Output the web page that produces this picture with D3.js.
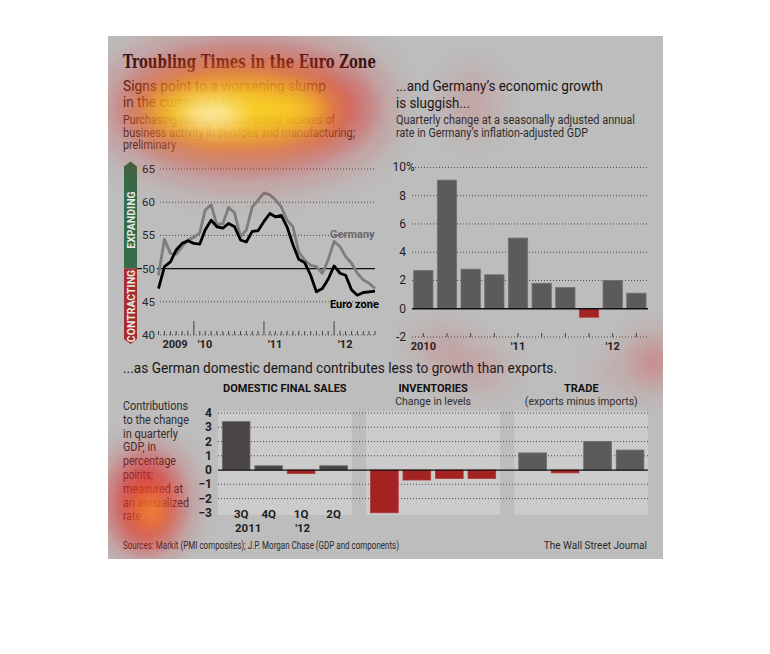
<!DOCTYPE html>
<html><head><meta charset="utf-8">
<script src="https://cdn.jsdelivr.net/npm/d3@7"></script>
<style>
body{margin:0;background:#fff}
svg{display:block}
text{font-family:Roboto,"Noto Sans","DejaVu Sans",sans-serif}
</style>
</head><body>
<svg id="c" width="770" height="654"></svg>
<script>
// ---------- DATA ----------
const pmiStart = "2009-07-01";
const germanyPMI = [49.0,54.4,52.3,52.2,53.3,54.3,54.7,55.4,58.8,59.6,56.6,56.8,59.2,58.4,54.8,55.8,59.3,60.3,61.4,61.1,60.4,59.3,57.3,56.3,52.5,51.3,50.5,50.3,49.3,51.3,54.1,53.3,51.8,50.8,49.3,48.3,47.8,47.0];
const euroPMI    = [47.0,50.3,51.0,52.8,53.8,54.2,53.8,53.7,55.8,57.3,56.3,56.1,56.8,56.3,54.3,54.0,55.6,55.7,57.1,58.3,57.8,58.0,56.3,53.6,51.4,50.9,49.0,46.5,47.0,48.4,50.4,49.3,49.0,46.8,46.0,46.4,46.5,46.6];
const pmiTicks = [40,45,50,55,60,65];
const pmiYearLabels = [{date:"2010-01-01",label:"'10"},{date:"2011-01-01",label:"'11"},{date:"2012-01-01",label:"'12"}];

const gdpQuarters = ["2010Q1","2010Q2","2010Q3","2010Q4","2011Q1","2011Q2","2011Q3","2011Q4","2012Q1","2012Q2"];
const gdpValues   = [2.7,9.1,2.8,2.4,5.0,1.8,1.5,-0.6,2.0,1.1];
const gdpTicks = [-2,0,2,4,6,8,10];
const gdpYearLabels = [{q:"2010Q1",label:"2010"},{q:"2011Q1",label:"'11"},{q:"2012Q1",label:"'12"}];

const compGroups = ["DOMESTIC FINAL SALES","INVENTORIES","TRADE"];
const compSubtitles = ["","Change in levels","(exports minus imports)"];
const compQuarters = ["3Q","4Q","1Q","2Q"];
const compYears = ["2011","","'12",""];
const domesticValues  = [3.4,0.3,-0.25,0.3];
const inventoryValues = [-3.0,-0.7,-0.6,-0.6];
const tradeValues     = [1.2,-0.2,2.0,1.4];
const compTicks = [-3,-2,-1,0,1,2,3,4];
const leftNote = ["Contributions","to the change","in quarterly","GDP, in","percentage","points;","measured at","an annualized","rate"];

// ---------- STYLE ----------
const BG = "#bdbdbd", DARK = "#5b5b5b", RED = "#a32222", INK = "#161616", SUB = "#2e2e2e";
const svg = d3.select("#c");

function txt(x, y, s, o = {}) {
  const t = svg.append("text").attr("x", x).attr("y", y).text(s)
    .attr("font-size", o.size || 12).attr("fill", o.fill || INK)
    .attr("font-weight", o.weight || "normal")
    .attr("text-anchor", o.anchor || "start");
  if (o.family) t.style("font-family", o.family);
  if (o.len) t.attr("textLength", o.len).attr("lengthAdjust", "spacingAndGlyphs");
  return t;
}

svg.append("rect").attr("x", 108).attr("y", 36).attr("width", 555).attr("height", 523).attr("fill", BG);

// ---------- TITLES ----------
txt(123, 68, "Troubling Times in the Euro Zone", {size: 18, weight: "bold", family: "'DejaVu Serif',serif", len: 253, fill: "#1e1212"});
txt(123, 91, "Signs point to a worsening slump", {size: 14, len: 203});
txt(123, 107, "in the currency bloc...", {size: 14, len: 127});
txt(123, 124, "Purchasing managers\u2019 composite indexes of", {size: 12, fill: SUB, len: 212});
txt(123, 136.5, "business activity in services and manufacturing;", {size: 12, fill: SUB, len: 232});
txt(123, 149, "preliminary", {size: 12, fill: SUB, len: 53});

txt(396, 91, "...and Germany\u2019s economic growth", {size: 14, len: 207});
txt(396, 108, "is sluggish...", {size: 14, len: 74});
txt(396, 124, "Quarterly change at a seasonally adjusted annual", {size: 12, fill: SUB, len: 239});
txt(396, 136.5, "rate in Germany\u2019s inflation-adjusted GDP", {size: 12, fill: SUB, len: 192});

txt(123, 373, "...as German domestic demand contributes less to growth than exports.", {size: 15, len: 434});

// ---------- PMI LINE CHART ----------
const px = d3.scaleTime().domain([new Date(pmiStart), d3.timeMonth.offset(new Date(pmiStart), germanyPMI.length - 1)]).range([158.5, 375]);
const py = d3.scaleLinear().domain([40, 65]).range([335, 169]);
const monthAt = i => d3.timeMonth.offset(new Date(pmiStart), i);

pmiTicks.filter(v => v !== 50 && v !== 40).forEach(v => {
  svg.append("line").attr("x1", 160).attr("x2", 375).attr("y1", py(v)).attr("y2", py(v))
    .attr("stroke", "#4a4a4a").attr("stroke-width", 1).attr("stroke-dasharray", "1,2");
});
svg.append("line").attr("x1", 160).attr("x2", 375).attr("y1", py(40)).attr("y2", py(40))
  .attr("stroke", "#4a4a4a").attr("stroke-dasharray", "1,2");
const axMonths = d3.timeMonth.range(new Date(pmiStart), d3.timeMonth.offset(new Date(pmiStart), germanyPMI.length));
svg.append("g").selectAll("line").data(axMonths).join("line")
  .attr("x1", d => px(d)).attr("x2", d => px(d))
  .attr("y1", d => d.getMonth() === 0 ? py(40) - 14 : py(40) - 4).attr("y2", py(40))
  .attr("stroke", "#444").attr("stroke-width", 1);
svg.append("line").attr("x1", 137).attr("x2", 142).attr("y1", py(50)).attr("y2", py(50)).attr("stroke", "#111").attr("stroke-width", 1.2);
svg.append("line").attr("x1", 157).attr("x2", 375).attr("y1", py(50)).attr("y2", py(50)).attr("stroke", "#111").attr("stroke-width", 1.2);
pmiTicks.forEach(v => txt(155, py(v) + 4, v, {size: 11.5, anchor: "end", fill: "#2a2a2a"}));
txt(175, 348, "2009", {size: 11, weight: "bold", anchor: "middle", fill: "#222"});
pmiYearLabels.forEach(d => txt(px(new Date(d.date)) + 4, 348, d.label, {size: 11, weight: "bold", fill: "#222"}));

const barX0 = 124, barX1 = 137;
svg.append("path").attr("d", `M${barX0},${py(50)} L${barX0},166.5 L${(barX0+barX1)/2},161.5 L${barX1},166.5 L${barX1},${py(50)} Z`).attr("fill", "#366b47");
svg.append("path").attr("d", `M${barX0},${py(50)} L${barX0},339 L${(barX0+barX1)/2},344 L${barX1},339 L${barX1},${py(50)} Z`).attr("fill", "#a42c2c");
svg.append("text").attr("transform", `translate(134.5,220) rotate(-90)`).attr("text-anchor", "middle")
  .attr("font-size", 10.5).attr("font-weight", "bold").attr("fill", "#e9e9e9").text("EXPANDING");
svg.append("text").attr("transform", `translate(134.5,306) rotate(-90)`).attr("text-anchor", "middle")
  .attr("font-size", 10.5).attr("font-weight", "bold").attr("fill", "#e9e9e9").text("CONTRACTING");

const line = d3.line().x((d, i) => px(monthAt(i))).y(d => py(d)).curve(d3.curveLinear);
svg.append("path").attr("d", line(germanyPMI)).attr("fill", "none").attr("stroke", "#7d7d7d").attr("stroke-width", 2.8).attr("stroke-linejoin", "round");
svg.append("path").attr("d", line(euroPMI)).attr("fill", "none").attr("stroke", "#000").attr("stroke-width", 2.8).attr("stroke-linejoin", "round");
txt(330, 238, "Germany", {size: 11, weight: "bold", fill: "#6a6a6a"});
txt(330, 308, "Euro zone", {size: 11, weight: "bold", fill: "#000"});

// ---------- GDP BAR CHART ----------
const gx = d3.scaleBand().domain(gdpQuarters).range([411.5, 648.2]).paddingInner(0.185).paddingOuter(0.0925);
const gy = d3.scaleLinear().domain([-2, 10]).range([337, 167.4]);
gdpTicks.filter(v => v !== 0).forEach(v => {
  svg.append("line").attr("x1", 412).attr("x2", 648).attr("y1", gy(v)).attr("y2", gy(v))
    .attr("stroke", "#4a4a4a").attr("stroke-dasharray", "1,2");
});
svg.append("g").selectAll("line").data(gdpQuarters).join("line")
  .attr("x1", d => gx(d) + gx.bandwidth() / 2).attr("x2", d => gx(d) + gx.bandwidth() / 2)
  .attr("y1", gy(-2) - 4).attr("y2", gy(-2)).attr("stroke", "#444");
gdpTicks.forEach(v => txt(406, gy(v) + 4, v, {size: 12, anchor: "end", fill: "#1e1e1e"}));
txt(406, gy(10) + 4, "%", {size: 12, fill: "#1e1e1e"});
svg.append("g").selectAll("rect").data(gdpValues).join("rect")
  .attr("x", (d, i) => gx(gdpQuarters[i])).attr("width", gx.bandwidth())
  .attr("y", d => gy(Math.max(0, d))).attr("height", d => Math.abs(gy(d) - gy(0)))
  .attr("fill", d => d < 0 ? RED : DARK).attr("stroke", d => d < 0 ? "#b33a3a" : "#707070").attr("stroke-width", 0.8);
svg.append("line").attr("x1", 412).attr("x2", 648).attr("y1", gy(0)).attr("y2", gy(0)).attr("stroke", "#111").attr("stroke-width", 1.3);
gdpYearLabels.forEach(d => txt(gx(d.q) + gx.bandwidth() / 2, 350, d.label, {size: 11, weight: "bold", anchor: "middle", fill: "#222"}));

// ---------- COMPONENTS CHART ----------
const compSeries = [domesticValues, inventoryValues, tradeValues];
const cg = d3.scaleBand().domain(compGroups).range([219.9, 646.3]).paddingInner(0.123).paddingOuter(0);
const cx = d3.scaleBand().domain(compQuarters).range([0, cg.bandwidth()]).paddingInner(0.148).paddingOuter(0.074);
const cy = d3.scaleLinear().domain([-3, 4]).range([512.8, 413]);

compGroups.forEach(g => {
  svg.append("rect").attr("x", cg(g) - 2).attr("y", 411).attr("width", cg.bandwidth() + 4).attr("height", 104)
    .attr("fill", "#cbcbcb");
});
compTicks.filter(v => v !== 0 && v !== -3).forEach(v => {
  svg.append("line").attr("x1", 218).attr("x2", 648).attr("y1", cy(v)).attr("y2", cy(v))
    .attr("stroke", "#4a4a4a").attr("stroke-dasharray", "1,2");
});
compTicks.forEach(v => txt(212, cy(v) + 4, v < 0 ? "\u2212" + Math.abs(v) : v, {size: 12, weight: "bold", anchor: "end", fill: "#1e1e1e"}));
compGroups.forEach((g, gi) => {
  const vals = compSeries[gi];
  svg.append("g").selectAll("rect").data(vals).join("rect")
    .attr("x", (d, i) => cg(g) + cx(compQuarters[i])).attr("width", cx.bandwidth())
    .attr("y", d => cy(Math.max(0, d))).attr("height", d => Math.abs(cy(d) - cy(0)))
    .attr("fill", d => d < 0 ? RED : (gi === 0 ? "#4a4545" : DARK))
    .attr("stroke", d => d < 0 ? "#b33a3a" : "#6e6e6e").attr("stroke-width", 0.8);
  const c = cg(g) + cg.bandwidth() / 2;
  txt(c, 392, g, {size: 11, weight: "bold", anchor: "middle", fill: "#111"});
  if (compSubtitles[gi]) txt(c, 405, compSubtitles[gi], {size: 10.5, anchor: "middle", fill: SUB});
});
svg.append("line").attr("x1", 218).attr("x2", 648).attr("y1", cy(0)).attr("y2", cy(0)).attr("stroke", "#111").attr("stroke-width", 1.3);
compQuarters.forEach((q, i) => {
  const c = cg(compGroups[0]) + cx(q) + cx.bandwidth() / 2;
  txt(c + (i === 0 ? 5 : 0), 518, q, {size: 11.5, weight: "bold", anchor: "middle", fill: "#1e1e1e"});
  if (compYears[i]) txt(i === 0 ? 235 : c - 6, 532, compYears[i], {size: 11.5, weight: "bold", fill: "#1e1e1e"});
});
const noteWidths = [65, 66, 55, 33, 53, 30, 60, 66, 18];
leftNote.forEach((s, i) => txt(123, 410 + i * 13.8, s, {size: 12.5, fill: SUB, len: noteWidths[i]}));

// ---------- FOOTER ----------
txt(123, 549, "Sources: Markit (PMI composites); J.P. Morgan Chase (GDP and components)", {size: 10, fill: "#2a2a2a", len: 276});
txt(647, 549, "The Wall Street Journal", {size: 10, fill: "#2a2a2a", anchor: "end"});

// ---------- ATTENTION HEATMAP OVERLAY ----------
const defs = svg.append("defs");
[["b30", 24], ["b20", 16], ["b12", 11], ["b8", 7]].forEach(([id, s]) => {
  defs.append("filter").attr("id", id).attr("x", "-100%").attr("y", "-100%").attr("width", "300%").attr("height", "300%")
    .append("feGaussianBlur").attr("stdDeviation", s);
});
defs.append("clipPath").attr("id", "panel").append("rect").attr("x", 108).attr("y", 36).attr("width", 555).attr("height", 523);
const heat = svg.append("g").attr("clip-path", "url(#panel)").style("pointer-events", "none");
const blobs = [
  {cx: 246, cy: 108, rx: 130, ry: 58, fill: "#e01e1e", op: 0.75, f: "b30"},
  {cx: 238, cy: 110, rx: 95, ry: 33, fill: "#ffee1a", op: 0.82, f: "b20"},
  {cx: 212, cy: 114, rx: 30, ry: 11, fill: "#ffffff", op: 0.75, f: "b12"},
  {cx: 146, cy: 502, rx: 36, ry: 50, fill: "#e01e1e", op: 0.78, f: "b20"},
  {cx: 150, cy: 510, rx: 14, ry: 20, fill: "#ffaa2a", op: 0.75, f: "b12"},
  {cx: 472, cy: 102, rx: 22, ry: 30, fill: "#e02222", op: 0.2, f: "b20"},
  {cx: 442, cy: 348, rx: 28, ry: 18, fill: "#e02222", op: 0.2, f: "b20"},
  {cx: 478, cy: 370, rx: 30, ry: 14, fill: "#e02222", op: 0.24, f: "b20"},
  {cx: 655, cy: 362, rx: 22, ry: 24, fill: "#e02222", op: 0.4, f: "b20"},
  {cx: 612, cy: 372, rx: 18, ry: 12, fill: "#e02222", op: 0.16, f: "b20"}
];
heat.selectAll("ellipse").data(blobs).join("ellipse")
  .attr("cx", d => d.cx).attr("cy", d => d.cy).attr("rx", d => d.rx).attr("ry", d => d.ry)
  .attr("fill", d => d.fill).attr("opacity", d => d.op).attr("filter", d => `url(#${d.f})`);
</script>
</body></html>
